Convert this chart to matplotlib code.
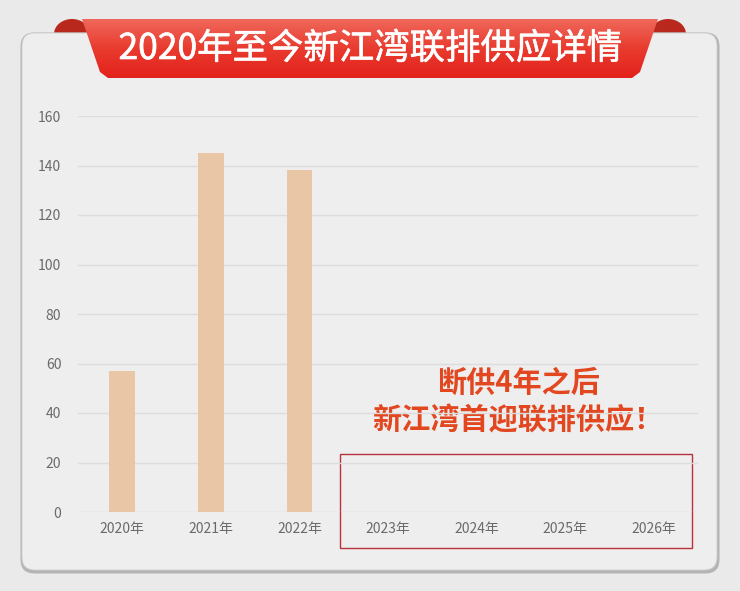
import matplotlib
matplotlib.use("Agg")
import matplotlib.pyplot as plt
import matplotlib.patheffects as pe
import numpy as np
from matplotlib.patches import FancyBboxPatch, Polygon, Ellipse, Rectangle
from matplotlib.colors import LinearSegmentedColormap

plt.rcParams['font.family'] = ['Noto Sans CJK SC', 'DejaVu Sans']

# ---- data ----
years = ["2020年", "2021年", "2022年", "2023年", "2024年", "2025年", "2026年"]
supply = [57, 145, 138, 0, 0, 0, 0]
yticks = [0, 20, 40, 60, 80, 100, 120, 140, 160]
title = "2020年至今新江湾联排供应详情"
note_lines = ["断供4年之后", "新江湾首迎联排供应！"]

W, H = 740, 591
fig = plt.figure(figsize=(W / 100, H / 100), dpi=100)
fig.patch.set_facecolor('#eaeaea')

# background layer in pixel coords
bg = fig.add_axes([0, 0, 1, 1], zorder=0)
bg.set_xlim(0, W)
bg.set_ylim(H, 0)
bg.axis('off')

# ribbon curls (behind card)
for cx in (72, 668):
    bg.add_patch(Ellipse((cx, 34), 36, 30, facecolor='#b8281c', edgecolor='none', zorder=1))

# card shadow + card
bg.add_patch(FancyBboxPatch((20.5, 32.5), 699, 541, boxstyle="round,pad=0,rounding_size=14",
                            facecolor='#b4b4b4', edgecolor='none', zorder=2))
bg.add_patch(FancyBboxPatch((22, 33), 695, 537, boxstyle="round,pad=0,rounding_size=13",
                            facecolor='#eeeeee', edgecolor='#d0d0d0', linewidth=0.6, zorder=3))

# main ribbon with vertical gradient
rib = Polygon([(82, 19), (658, 19), (640, 72), (632, 78), (108, 78), (100, 72)],
              closed=True, facecolor='none', edgecolor='none', zorder=4)
bg.add_patch(rib)
grad = np.linspace(0, 1, 256).reshape(-1, 1)
cmap = LinearSegmentedColormap.from_list('rib', ['#ef6a5c', '#e93a2e', '#e3201b'])
im = bg.imshow(grad, extent=(80, 660, 80, 18), cmap=cmap, aspect='auto', zorder=4,
               interpolation='bilinear')
im.set_clip_path(rib)
bg.text(370, 49, title, color='white', fontsize=25.5, ha='center', va='center', zorder=5,
        path_effects=[pe.withStroke(linewidth=0.45, foreground='white')])

# ---- chart ----
ax = fig.add_axes([78 / W, 1 - 512 / H, 620 / W, 396 / H], zorder=2)
ax.patch.set_alpha(0)
x = np.arange(len(years))
ax.bar(x, supply, width=0.29, color='#e8c6a6', zorder=3)
ax.set_xlim(-0.5, len(years) - 0.5)
ax.set_ylim(0, 160)
ax.set_yticks(yticks)
ax.set_xticks(x)
ax.set_xticklabels(years)
ax.grid(axis='y', color='#dcdcdc', linewidth=1.0, zorder=0)
ax.set_axisbelow(True)
for s in ax.spines.values():
    s.set_visible(False)
ax.tick_params(axis='both', length=0, colors='#6a6a6a', labelsize=10)
ax.tick_params(axis='y', pad=12)
ax.tick_params(axis='x', pad=7)

# annotation
bg.text(518, 383, note_lines[0], color='#e2471f', fontsize=21, fontweight='bold',
        ha='center', va='center', zorder=5)
bg.text(518, 420, note_lines[1], color='#e2471f', fontsize=21, fontweight='bold',
        ha='center', va='center', zorder=5)
bg.add_patch(Rectangle((340, 454), 352, 94, facecolor='none', edgecolor='#b8323c',
                       linewidth=1.0, zorder=5))

fig.savefig('out.png', dpi=100, facecolor=fig.get_facecolor())
